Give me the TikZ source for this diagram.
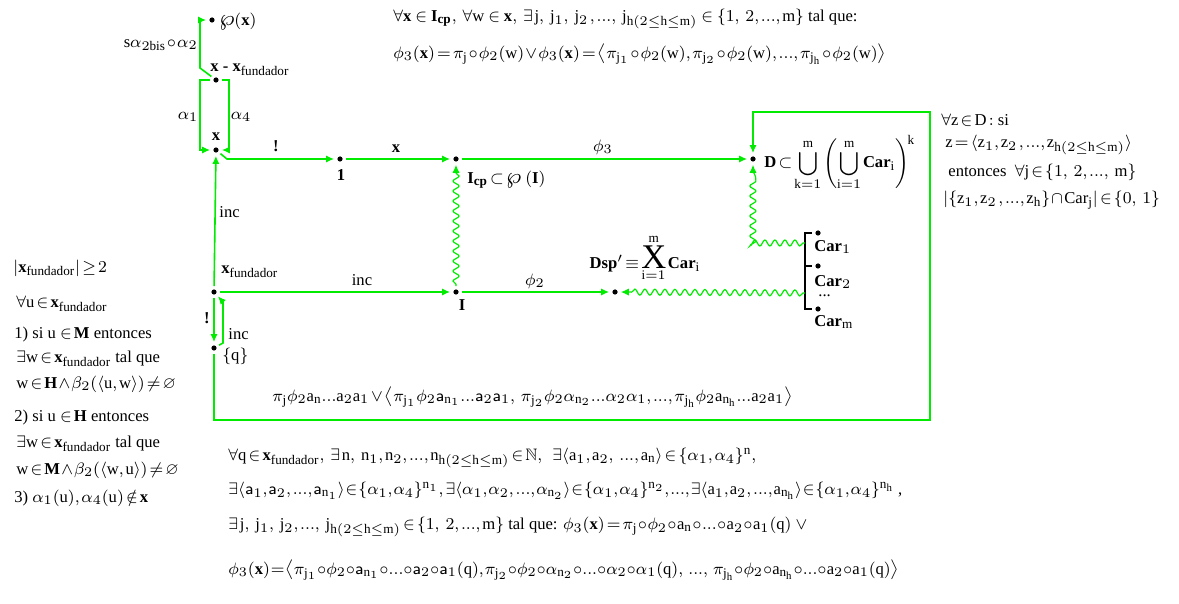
\documentclass[tikz,border=0pt]{standalone}
\usepackage{fix-cm}
\usepackage{amssymb}
\usepackage{graphicx}
\usepackage{fontspec}
\setmainfont{Liberation Serif}
\setmathrm{Liberation Serif}
\usetikzlibrary{arrows.meta,decorations.pathmorphing}
\definecolor{gr}{RGB}{0,235,0}
\DeclareMathSizes{8.3}{8.3}{6.6}{5.4}
\newcommand\fs{\fontsize{8.3}{10}\selectfont\medmuskip=1.2mu\thickmuskip=2.2mu\thinmuskip=1.8mu}
\newcommand\tight{\medmuskip=0.2mu\thickmuskip=1mu\thinmuskip=1mu}
\newcommand\fu{_{\mathrm{fundador}}}
\newcommand\hh{_{\mathrm{h}(2\le\mathrm{h}\le\mathrm{m})}}
\newcommand\rmm[1]{\mathrm{#1}}
\newcommand\dd{\mathrm{...}}
\newcommand\bwp{\mbox{\scalebox{1.35}{$\wp$}}}
\tikzset{
  dot/.style={circle,fill=black,inner sep=0pt,minimum size=2.6pt,outer sep=1.6pt},
  arr/.style={draw=gr,line width=0.8pt,-{Latex[length=4pt,width=3.6pt]}},
  wav/.style={draw=gr,line width=0.6pt,decorate,
    decoration={snake,amplitude=1.5pt,segment length=5pt,post length=3pt,pre length=1pt},
    -{Latex[length=4pt,width=3.6pt]}},
  lbl/.style={inner sep=0pt},
  every node/.append style={font=\fs}
}
\begin{document}
\begin{tikzpicture}[x=0.5pt,y=-0.5pt]
\useasboundingbox (0,0) rectangle (1179,604);
% dots
\node[dot] (P)   at (212,20) {};
\node[dot] (xmx) at (216,80) {};
\node[dot] (xd)  at (216,150) {};
\node[dot] (one) at (340,159) {};
\node[dot] (Icp) at (456,159) {};
\node[dot] (D)   at (753,159) {};
\node[dot] (xf)  at (214,292) {};
\node[dot] (I)   at (456,292) {};
\node[dot] (Dsp) at (615,292) {};
\node[dot] (q)   at (214,348) {};
\node[dot] (c1)  at (818,233) {};
\node[dot] (c2)  at (818,266) {};
\node[dot] (cm)  at (818,309) {};
\coordinate (br1) at (805,243);
\coordinate (br2) at (805,293);
% node labels
\node[lbl,anchor=west] (Pl) at (219,21) {$\bwp\mathbf{(x)}$};
\node[lbl,anchor=base west] (xmxl) at (210,72) {$\mathbf{x}$ \textbf{-} $\mathbf{x}\fu$};
\node[lbl] (xdl) at (216,137) {$\mathbf{x}$};
\node[lbl] (onel) at (341,175) {$\mathbf{1}$};
\node[lbl,anchor=west] (Icpl) at (467,180) {$\mathbf{I}_{\mathbf{cp}}\subset\bwp\ \mathbf{(I)}$};
\node[lbl,anchor=west] (Dl) at (764,163) {$\mathbf{D}\subset\displaystyle\bigcup_{\rmm{k}=1}^{\rmm{m}}\left(\bigcup_{\rmm{i}=1}^{\rmm{m}}\mathbf{Car}_{\rmm{i}}\right)^{\!\rmm{k}}$};
\node[lbl,anchor=west] (xfl) at (221,272) {$\mathbf{x}\fu$};
\node[lbl] (Il) at (462,305) {$\mathbf{I}$};
\node[lbl] (Dspl) at (645,258) {$\mathbf{Dsp'}\equiv\displaystyle\mathop{\mbox{\LARGE X}}_{\rmm{i}=1}^{\rmm{m}}\mathbf{Car}_{\rmm{i}}$};
\node[lbl,anchor=west] (ql) at (222,356) {$\{\rmm{q}\}$};
\node[lbl,anchor=west] (c1l) at (814,247) {$\mathbf{Car}_1$};
\node[lbl,anchor=west] (c2l) at (814,282) {$\mathbf{Car}_2$};
\node[lbl,anchor=west] (cdl) at (818,296) {...};
\node[lbl,anchor=west] (cml) at (814,322) {$\mathbf{Car}_{\rmm{m}}$};
% bracket
\draw[line width=0.6pt] (812,233) -- (805,233) -- (805,309) -- (812,309) (805,266) -- (812,266);
% connectors
\draw[arr] (xmx) -- (200,68) -- (200,20) -- (P);
\node[lbl,anchor=east] at (198,45) {$\rmm{s}\alpha_{2\rmm{bis}}\circ\alpha_2$};
\draw[arr] (xmx) -- (200,80) -- (200,150) -- (xd);
\draw[arr] (xmx) -- (229,80) -- (229,150) -- (xd);
\node[lbl] at (188,117) {$\alpha_1$};
\node[lbl] at (241,117) {$\alpha_4$};
\draw[arr] (xd) -- (227,159) -- (one);
\node[lbl] at (276,146) {\textbf{!}};
\draw[arr] (one) -- (Icp);
\node[lbl] at (396,149) {$\mathbf{x}$};
\draw[arr] (Icp) -- (D);
\node[lbl] at (603,147) {$\phi_3$};
\draw[arr] (xf) -- (xd);
\node[lbl,anchor=west] at (219,212) {inc};
\draw[arr] (xf) -- (I);
\node[lbl] at (362,280) {inc};
\draw[arr] (I) -- (Dsp);
\node[lbl] at (535,281) {$\phi_2$};
\draw[wav] (I) -- (Icp);
\draw[arr] (xf) -- (q);
\node[lbl] at (207,318) {\textbf{!}};
\draw[arr] (q) -- (223,343) -- (223,302) -- (xf);
\node[lbl,anchor=west] at (228,334) {inc};
\draw[arr] (q) -- (214,420) -- (930,420) -- (930,112) -- (753,112) -- (D);
\node[lbl,anchor=west] at (272,397) {$\medmuskip=2mu\pi_{\rmm{j}}\phi_2\rmm{a}_{\rmm{n}}\dd\rmm{a}_2\rmm{a}_1\vee\left\langle\pi_{\rmm{j}_1}\phi_2\mathsf{a}_{\rmm{n}_1}\dd\mathsf{a}_2\mathsf{a}_1,\ \pi_{\rmm{j}_2}\phi_2\alpha_{\rmm{n}_2}\dd\alpha_2\alpha_1,\dd,\pi_{\rmm{j}_{\rmm{h}}}\phi_2\rmm{a}_{\rmm{n}_{\rmm{h}}}\dd\rmm{a}_2\rmm{a}_1\right\rangle$};
\draw[wav] (br1) -- (753,243) -- (D);
\draw[wav] (br2) -- (Dsp);
% top text
\node[lbl,anchor=west] at (393,19) {$\thickmuskip=4mu\forall\mathbf{x}\in\mathbf{I}_{\mathbf{cp}},\ \forall\rmm{w}\in\mathbf{x},\ \exists\,\rmm{j},\ \rmm{j}_1,\ \rmm{j}_2\,,\dd,\ \rmm{j}\hh\in\{1,\ 2,\dd,\rmm{m}\}$ tal que:};
\node[lbl,anchor=west] at (393,54) {$\phi_3(\mathbf{x})=\pi_{\rmm{j}}\circ\phi_2(\rmm{w})\vee\phi_3(\mathbf{x})=\left\langle\pi_{\rmm{j}_1}\circ\phi_2(\rmm{w}),\pi_{\rmm{j}_2}\circ\phi_2(\rmm{w}),\dd,\pi_{\rmm{j}_{\rmm{h}}}\circ\phi_2(\rmm{w})\right\rangle$};
% right text
\node[lbl,anchor=west] at (941,120) {$\forall\rmm{z}\in\rmm{D}:$ si};
\node[lbl,anchor=west] at (945,145) {$\rmm{z}=\langle\rmm{z}_1,\rmm{z}_2\,,\dd,\rmm{z}\hh\rangle$};
\node[lbl,anchor=west] at (948,172) {entonces\ \ $\forall\rmm{j}\in\{1,\ 2,\dd,\ \rmm{m}\}$};
\node[lbl,anchor=west] at (943,200) {$|\{\rmm{z}_1,\rmm{z}_2\,,\dd,\rmm{z}_{\rmm{h}}\}\cap\mathrm{Car}_{\rmm{j}}|\in\{0,\ 1\}$};
% left text
\node[lbl,anchor=west] at (13,268) {$|\mathbf{x}\fu|\ge2$};
\node[lbl,anchor=west] at (16,304) {$\forall\rmm{u}\in\mathbf{x}\fu$};
\node[lbl,anchor=west] at (14,335) {1) si u $\in\mathbf{M}$ entonces};
\node[lbl,anchor=west] at (16,359) {$\exists\rmm{w}\in\mathbf{x}\fu$ tal que};
\node[lbl,anchor=west] at (16,384) {$\rmm{w}\in\mathbf{H}\wedge\beta_2(\langle\rmm{u},\rmm{w}\rangle)\ne\varnothing$};
\node[lbl,anchor=west] at (14,418) {2) si u $\in\mathbf{H}$ entonces};
\node[lbl,anchor=west] at (16,444) {$\exists\rmm{w}\in\mathbf{x}\fu$ tal que};
\node[lbl,anchor=west] at (16,470) {$\rmm{w}\in\mathbf{M}\wedge\beta_2(\langle\rmm{w},\rmm{u}\rangle)\ne\varnothing$};
\node[lbl,anchor=west] at (14,498) {3) $\alpha_1(\rmm{u}),\alpha_4(\rmm{u})\notin\mathbf{x}$};
% bottom text
\node[lbl,anchor=west] at (228,458) {$\forall\rmm{q}\in\mathbf{x}\fu,\ \exists\,\rmm{n},\ \rmm{n}_1,\rmm{n}_2,\dd,\rmm{n}\hh\in\mathbb{N},\ \ \exists\langle\rmm{a}_1,\rmm{a}_2,\ \dd,\rmm{a}_{\rmm{n}}\rangle\in\{\alpha_1,\alpha_4\}^{\rmm{n}},$};
\node[lbl,anchor=west] at (228,491) {$\tight\exists\langle\mathsf{a}_1,\mathsf{a}_2,\,\dd,\mathsf{a}_{\rmm{n}_1}\rangle\in\{\alpha_1,\alpha_4\}^{\rmm{n}_1},\,\exists\langle\alpha_1,\alpha_2,\,\dd,\alpha_{\rmm{n}_2}\rangle\in\{\alpha_1,\alpha_4\}^{\rmm{n}_2},\dd,\exists\langle\rmm{a}_1,\rmm{a}_2,\,\dd,\rmm{a}_{\rmm{n}_{\rmm{h}}}\rangle\in\{\alpha_1,\alpha_4\}^{\rmm{n}_{\rmm{h}}}$\ ,};
\node[lbl,anchor=west] at (228,527) {$\medmuskip=0.6mu\exists\,\rmm{j},\ \rmm{j}_1,\ \rmm{j}_2,\dd,\ \rmm{j}\hh\in\{1,\ 2,\dd,\rmm{m}\}$ tal que: $\medmuskip=0.6mu\phi_3(\mathbf{x})=\pi_{\rmm{j}}\circ\phi_2\circ\rmm{a}_{\rmm{n}}\circ\dd\circ\rmm{a}_2\circ\rmm{a}_1(\rmm{q})\ \vee$};
\node[lbl,anchor=west] at (228,570) {$\tight\phi_3(\mathbf{x})=\left\langle\pi_{\rmm{j}_1}\circ\phi_2\circ\mathsf{a}_{\rmm{n}_1}\circ\dd\circ\mathsf{a}_2\circ\mathsf{a}_1(\rmm{q}),\pi_{\rmm{j}_2}\circ\phi_2\circ\alpha_{\rmm{n}_2}\circ\dd\circ\alpha_2\circ\alpha_1(\rmm{q}),\ \dd,\ \pi_{\rmm{j}_{\rmm{h}}}\circ\phi_2\circ\rmm{a}_{\rmm{n}_{\rmm{h}}}\circ\dd\circ\rmm{a}_2\circ\rmm{a}_1(\rmm{q})\right\rangle$};
\end{tikzpicture}
\end{document}
